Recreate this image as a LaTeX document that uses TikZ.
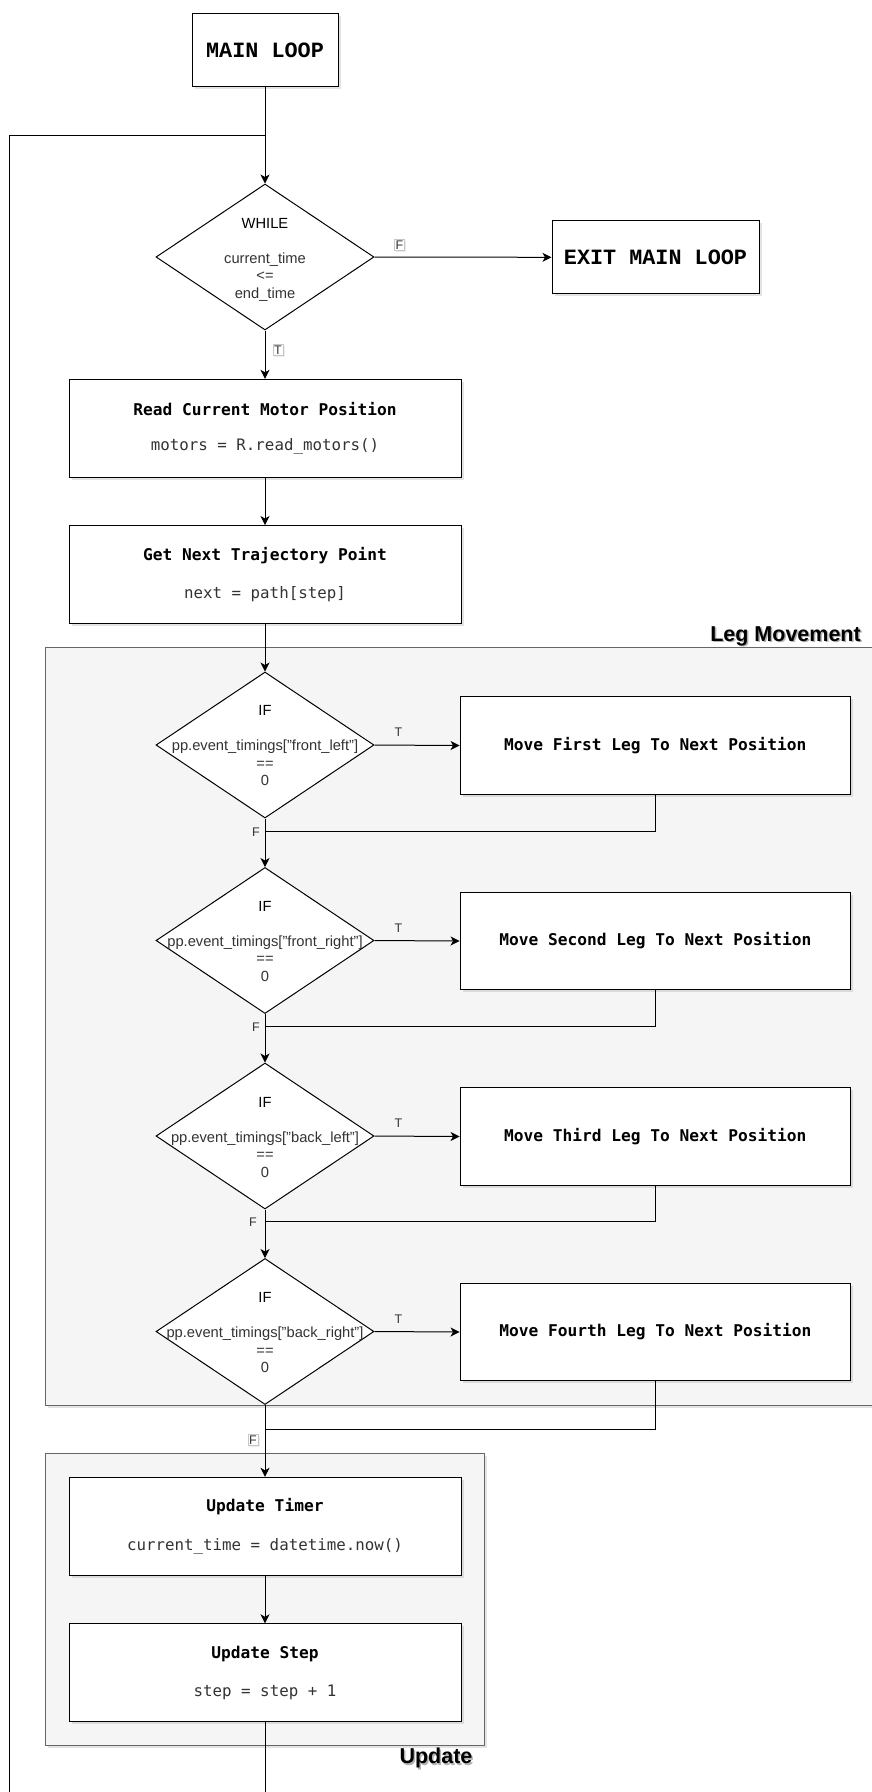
\documentclass[tikz,border=0pt]{standalone}
\usepackage{fontspec}
\setmainfont{Liberation Sans}
\newfontfamily\codefont{DejaVu Sans Mono}
\newfontfamily\courierfont{Liberation Mono}
\usetikzlibrary{shapes.geometric,arrows.meta,shadows}

\definecolor{groupfill}{HTML}{F5F5F5}
\definecolor{groupline}{HTML}{666666}
\definecolor{codegray}{HTML}{333333}

\newcommand{\boxtitle}[1]{{\codefont\bfseries\fontsize{16.2}{19}\selectfont #1}}
\newcommand{\boxcode}[1]{{\codefont\fontsize{15.8}{19}\selectfont\color{codegray}#1}}

\begin{document}
\begin{tikzpicture}[x=1pt,y=-1pt,
  flow/.style={line width=1pt, draw=black, -{Stealth[length=9pt,width=9pt,inset=2.5pt]}},
  plain/.style={line width=1pt, draw=black},
  boxshadow/.style={drop shadow={opacity=0.22, shadow xshift=2.5pt, shadow yshift=-2.5pt}},
  procbox/.style={draw=black, line width=1pt, fill=white, minimum width=392pt,
    minimum height=98pt, inner sep=0pt, align=center, boxshadow},
  legbox/.style={procbox, minimum width=390.5pt, minimum height=97.6pt,
    font=\codefont\bfseries\fontsize{16.2}{19}\selectfont},
  termbox/.style={draw=black, line width=1pt, fill=white, minimum height=73.3pt,
    inner sep=0pt, font=\courierfont\bfseries\fontsize{21.8}{26}\selectfont, boxshadow},
  decision/.style={shape=diamond, draw=black, line width=1pt, fill=white,
    minimum width=218pt, minimum height=146pt, inner sep=0pt},
  condtext/.style={align=center, text=codegray, font=\fontsize{14.7}{17.5}\selectfont, inner sep=0pt},
  group/.style={draw=groupline, line width=1pt, fill=groupfill, inner sep=0pt, boxshadow},
  grouplabel/.style={font=\bfseries\fontsize{21.5}{24}\selectfont, inner sep=0pt},
  branch/.style={font=\fontsize{12.5}{14}\selectfont, inner sep=1pt, text=codegray},
  tagged/.style={branch, draw=gray!45, fill=white, inner sep=1.2pt,
    drop shadow={opacity=0.15, shadow xshift=1.5pt, shadow yshift=-1.5pt}},
]
% canvas
\fill[white] (0,0) rectangle (872,1792);
\useasboundingbox (0,0) rectangle (872,1792);

% group containers
\node[group, minimum width=834.5pt, minimum height=757.7pt] (legs) at (462.75,1026.15) {};
\node[grouplabel, anchor=east, text=black!30] (legshade) at (862.5,637.5) {Leg Movement};
\node[grouplabel, anchor=east] (leglbl) at (861,636) {Leg Movement};
\node[group, minimum width=438.9pt, minimum height=292.7pt] (upd) at (264.95,1599.35) {};
\node[grouplabel, text=black!30] (updshade) at (437.5,1759.5) {Update};
\node[grouplabel] (updlbl) at (436,1758) {Update};

% start / end
\node[termbox, minimum width=146pt] (main) at (265,50) {MAIN LOOP};
\node[termbox, minimum width=207pt] (exit) at (655.5,257.3) {EXIT MAIN LOOP};

% loop condition
\node[decision] (while) at (265,257) {};
\node[condtext] (whiletxt) at (265,259.5)
  {\textcolor{black}{WHILE}\\[17.5pt]current\_time\\<=\\end\_time};

% sensing and planning
\node[procbox] (read) at (265,428.3)
  {\boxtitle{Read Current Motor Position}\\[22pt]\boxcode{motors = R.read\_motors()}};
\node[procbox] (next) at (265,574.5)
  {\boxtitle{Get Next Trajectory Point}\\[22pt]\boxcode{next = path[step]}};

% leg checks
\foreach \i/\yy/\key/\ord in {1/745/front\_left/First, 2/940.5/front\_right/Second,
                               3/1136/back\_left/Third, 4/1331.5/back\_right/Fourth} {
  \node[decision] (if\i) at (265,\yy) {};
  \node[condtext] (iftxt\i) at (265,\yy+1)
    {\textcolor{black}{IF}\\[17.5pt]pp.event\_timings["\key"]\\==\\0};
  \node[legbox] (leg\i) at (655.3,\yy+0.5) {Move \ord{} Leg To Next Position};
}

% update block
\node[procbox] (timer) at (265,1526.3)
  {\boxtitle{Update Timer}\\[22pt]\boxcode{current\_time = datetime.now()}};
\node[procbox] (upstep) at (265,1672.8)
  {\boxtitle{Update Step}\\[22pt]\boxcode{step = step + 1}};

% main flow
\coordinate (loopjoin) at (265,135.7);
\coordinate (loopcorner) at (9.5,1815);
\draw[flow] (main.south) -- (while.north);
\draw[plain] (upstep.south) |- (loopcorner) |- (loopjoin);
\draw[flow] (while.east) -- (exit.west);
\node[tagged] (tagF0) at (399.5,245) {F};
\draw[flow] (while.south) -- (read.north);
\node[tagged] (tagT0) at (278,349.7) {T};
\draw[flow] (read.south) -- (next.north);
\draw[flow] (next.south) -- (if1.north);

% leg branches
\foreach \i/\yy/\my in {1/745/831, 2/940.5/1026.5, 3/1136/1221.5, 4/1331.5/1429} {
  \draw[flow] (if\i.east) -- (leg\i.west);
  \node[branch] (tagT\i) at (398.5,\yy-12.5) {T};
  \coordinate (join\i) at (265,\my);
  \draw[plain] (leg\i.south) |- (join\i);
}
\draw[flow] (if1.south) -- (if2.north);
\draw[flow] (if2.south) -- (if3.north);
\draw[flow] (if3.south) -- (if4.north);
\draw[flow] (if4.south) -- (timer.north);
\node[branch, anchor=east] (tagF1) at (261,832) {F};
\node[branch, anchor=east] (tagF2) at (261,1027.5) {F};
\node[branch, anchor=east] (tagF3) at (258,1222.5) {F};
\node[tagged] (tagF4) at (253,1440) {F};

\draw[flow] (timer.south) -- (upstep.north);
\end{tikzpicture}
\end{document}
